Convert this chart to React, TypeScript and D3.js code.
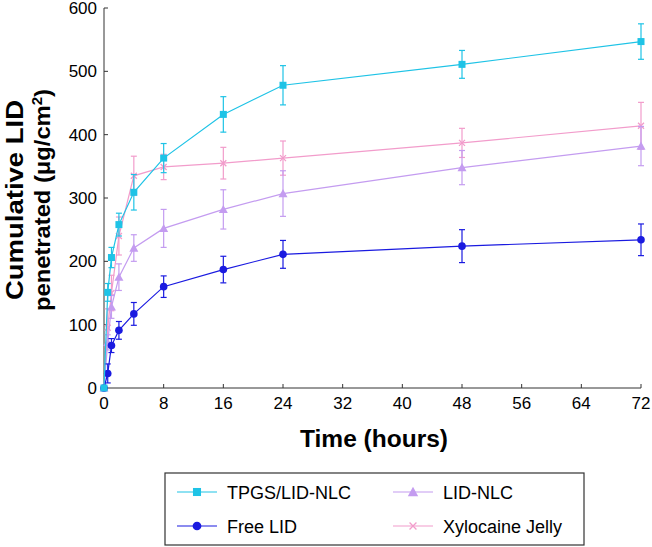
import React from "react";
import * as d3 from "d3";

const times = [0, 0.5, 1, 2, 4, 8, 16, 24, 48, 72];
const tpgsMean = [0, 151, 206, 258, 309, 363, 432, 478, 511, 547];
const tpgsErr = [0, 14, 16, 18, 28, 23, 28, 31, 22, 28];
const lidNlcMean = [0, 72, 128, 175, 221, 252, 282, 307, 348, 382];
const lidNlcErr = [0, 12, 18, 21, 21, 30, 31, 36, 27, 31];
const freeMean = [0, 23, 67, 91, 117, 160, 187, 211, 224, 234];
const freeErr = [0, 15, 11, 14, 18, 17, 21, 22, 26, 25];
const xyloMean = [0, 95, 150, 240, 335, 349, 355, 363, 387, 414];
const xyloErr = [0, 30, 28, 30, 31, 20, 25, 27, 23, 37];
const xTicks = [0, 8, 16, 24, 32, 40, 48, 56, 64, 72];
const yTicks = [0, 100, 200, 300, 400, 500, 600];

type Series = { name: string; mean: number[]; err: number[]; color: string; marker: string };
const series: Series[] = [
  { name: "Xylocaine Jelly", mean: xyloMean, err: xyloErr, color: "#f29ccb", marker: "x" },
  { name: "LID-NLC", mean: lidNlcMean, err: lidNlcErr, color: "#c49cf0", marker: "tri" },
  { name: "Free LID", mean: freeMean, err: freeErr, color: "#1a1ae0", marker: "circle" },
  { name: "TPGS/LID-NLC", mean: tpgsMean, err: tpgsErr, color: "#1ec3e6", marker: "square" },
];

const legendOrder = [
  ["TPGS/LID-NLC", "LID-NLC"],
  ["Free LID", "Xylocaine Jelly"],
];

function Marker({ type, x, y, color, big }: { type: string; x: number; y: number; color: string; big?: boolean }) {
  const k = big ? 1.15 : 1;
  if (type === "square") return <rect x={x - 3.5 * k} y={y - 3.5 * k} width={7 * k} height={7 * k} fill={color} />;
  if (type === "circle") return <circle cx={x} cy={y} r={3.8 * k} fill={color} />;
  if (type === "tri") {
    const s = 4.5 * k;
    return <path d={`M${x},${y - s}L${x + s},${y + s * 0.8}L${x - s},${y + s * 0.8}Z`} fill={color} />;
  }
  const s = 3 * k;
  return (
    <path d={`M${x - s},${y - s}L${x + s},${y + s}M${x - s},${y + s}L${x + s},${y - s}`} stroke={color} strokeWidth={1.3} />
  );
}

export default function App() {
  const W = 652, H = 547;
  const x = d3.scaleLinear().domain([0, 72]).range([104, 641]);
  const y = d3.scaleLinear().domain([0, 600]).range([388, 8]);
  const font = "'Liberation Sans', Arial, sans-serif";
  const line = (s: Series) =>
    d3.line<number>().x((_, i) => x(times[i])).y((d) => y(d))(s.mean) || "";
  const byName = (n: string) => series.find((s) => s.name === n)!;

  return (
    <svg width={W} height={H} style={{ position: "absolute", left: 0, top: 0, background: "#fff" }} fontFamily={font}>
      {/* axes */}
      <line x1={104} y1={388} x2={641} y2={388} stroke="#333" strokeWidth={1} />
      <line x1={104} y1={388} x2={104} y2={8} stroke="#333" strokeWidth={1} />
      {xTicks.map((t) => (
        <g key={"x" + t}>
          <line x1={x(t)} x2={x(t)} y1={388} y2={384} stroke="#333" />
          <text x={x(t)} y={409} fontSize={17} textAnchor="middle" fill="#000">{t}</text>
        </g>
      ))}
      {yTicks.map((t) => (
        <g key={"y" + t}>
          <line x1={104} x2={108} y1={y(t)} y2={y(t)} stroke="#333" />
          <text x={97} y={y(t) + 6} fontSize={17} textAnchor="end" fill="#000">{t}</text>
        </g>
      ))}
      <text x={374} y={447} fontSize={23} fontWeight="bold" textAnchor="middle" textLength={148} lengthAdjust="spacingAndGlyphs">Time (hours)</text>
      <g transform="translate(23,200) rotate(-90)">
        <text x={0} y={0} fontSize={24} fontWeight="bold" textAnchor="middle" textLength={200} lengthAdjust="spacingAndGlyphs">Cumulative LID</text>
        <text x={0} y={27} fontSize={22} fontWeight="bold" textAnchor="middle" textLength={222} lengthAdjust="spacingAndGlyphs">
          penetrated (μg/cm<tspan dy={-8} fontSize={14}>2</tspan><tspan dy={8}>)</tspan>
        </text>
      </g>
      {/* series */}
      {series.map((s) => (
        <g key={s.name}>
          <path d={line(s)} fill="none" stroke={s.color} strokeWidth={1.2} />
          {s.mean.map((m, i) =>
            s.err[i] > 0 ? (
              <g key={i} stroke={s.color} strokeWidth={1.2}>
                <line x1={x(times[i])} x2={x(times[i])} y1={y(m - s.err[i])} y2={y(m + s.err[i])} />
                <line x1={x(times[i]) - 3} x2={x(times[i]) + 3} y1={y(m - s.err[i])} y2={y(m - s.err[i])} />
                <line x1={x(times[i]) - 3} x2={x(times[i]) + 3} y1={y(m + s.err[i])} y2={y(m + s.err[i])} />
              </g>
            ) : null
          )}
          {s.mean.map((m, i) => (
            <Marker key={"m" + i} type={s.marker} x={x(times[i])} y={y(m)} color={s.color} />
          ))}
        </g>
      ))}
      {/* legend */}
      <rect x={165} y={473} width={419} height={72} fill="#fff" stroke="#333" strokeWidth={1.2} />
      {legendOrder.map((row, r) =>
        row.map((n, c) => {
          const s = byName(n);
          const lx = c === 0 ? 177 : 393;
          const ly = r === 0 ? 492 : 526;
          return (
            <g key={n}>
              <line x1={lx} x2={lx + 40} y1={ly} y2={ly} stroke={s.color} strokeWidth={1.2} />
              <Marker type={s.marker} x={lx + 20} y={ly} color={s.color} big />
              <text x={lx + 50} y={ly + 6.5} fontSize={18} fill="#000">{n}</text>
            </g>
          );
        })
      )}
    </svg>
  );
}
